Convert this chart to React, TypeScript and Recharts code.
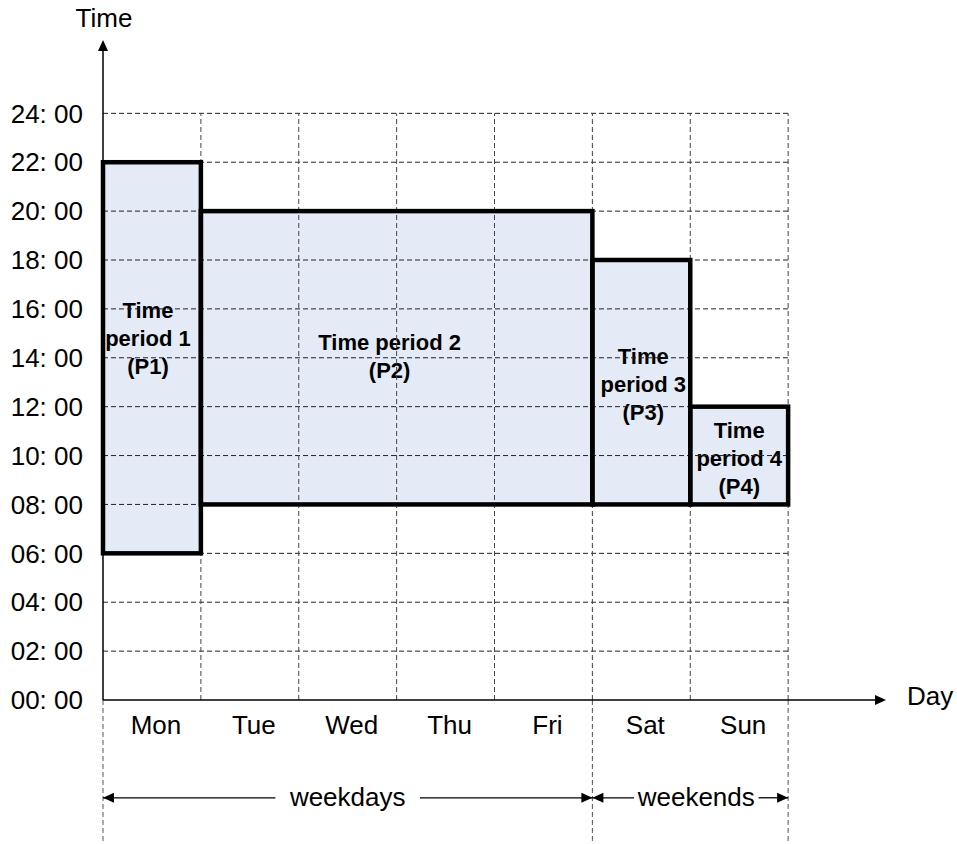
import React from "react";
import {
  ComposedChart,
  XAxis,
  YAxis,
  ReferenceArea,
  ReferenceLine,
} from "recharts";

// --- chart data ---
const days = ["Mon", "Tue", "Wed", "Thu", "Fri", "Sat", "Sun"];
const hourTicks = [0, 2, 4, 6, 8, 10, 12, 14, 16, 18, 20, 22, 24];

// each period covers [startDay, endDay) and [startHour, endHour]
const periodStartDay = [0, 1, 5, 6];
const periodEndDay = [1, 5, 6, 7];
const periodStartHour = [6, 8, 8, 8];
const periodEndHour = [22, 20, 18, 12];
const periodLines = [
  ["Time", "period 1", "(P1)"],
  ["Time period 2", "(P2)"],
  ["Time", "period 3", "(P3)"],
  ["Time", "period 4", "(P4)"],
];

const groupLabels = ["weekdays", "weekends"];
const groupStartDay = [0, 5];
const groupEndDay = [5, 7];

// --- layout / style ---
const WIDTH = 957;
const HEIGHT = 844;
const FONT = '"Liberation Sans", Arial, Helvetica, sans-serif';
const X_MAX = 8; // axis runs past Sunday to the arrow head
const Y_MAX = 27; // axis runs past 24:00 to the arrow head
const BRACKET_Y = -4; // below the x axis, in hours
const BELOW = -6;
const FILL = "#e5ebf6";
const labelNudge = [
  { dx: -4, dy: -20 },
  { dx: -7, dy: -2 },
  { dx: 2, dy: 2 },
  { dx: 0, dy: 2 },
];
const bracketNudge = [
  { dx: 0, gap: 14 },
  { dx: 6, gap: 4 },
];

const pad = (h: number) => (h < 10 ? `0${h}` : `${h}`);

function arrowHead(x1: number, y1: number, x2: number, y2: number, len = 11, half = 5) {
  const d = Math.hypot(x2 - x1, y2 - y1) || 1;
  const ux = (x2 - x1) / d;
  const uy = (y2 - y1) / d;
  const bx = x2 - ux * len;
  const by = y2 - uy * len;
  return `${x2},${y2} ${bx - uy * half},${by + ux * half} ${bx + uy * half},${by - ux * half}`;
}

function XArrow(props: any) {
  const { x1, y1, x2, y2 } = props;
  return (
    <g>
      <line x1={x1} y1={y1} x2={x2 - 6} y2={y2} stroke="#000" strokeWidth={1.5} />
      <polygon points={arrowHead(x1, y1, x2, y2)} fill="#000" />
      <text x={x2 + 21} y={y2 + 5} fontSize={26} fontFamily={FONT} fill="#000">
        Day
      </text>
    </g>
  );
}

function YArrow(props: any) {
  const { x1, y1, x2, y2 } = props;
  return (
    <g>
      <line x1={x1} y1={y1} x2={x2} y2={y2 + 6} stroke="#000" strokeWidth={1.5} />
      <polygon points={arrowHead(x1, y1, x2, y2, 11, 5)} fill="#000" />
      <text x={x2 + 1} y={y2 - 13} fontSize={26} fontFamily={FONT} fill="#000" textAnchor="middle">
        Time
      </text>
    </g>
  );
}

function makeBracket(label: string, idx: number) {
  return (props: any) => {
    const { x1, y1, x2 } = props;
    const { dx, gap } = bracketNudge[idx];
    const mid = (x1 + x2) / 2 + dx;
    const half = (label.length * 0.56 * 26) / 2;
    return (
      <g>
        <line x1={x1} y1={y1} x2={mid - half - gap} y2={y1} stroke="#000" strokeWidth={1.3} />
        <line x1={mid + half + gap} y1={y1} x2={x2} y2={y1} stroke="#000" strokeWidth={1.3} />
        <polygon points={arrowHead(x1 + 20, y1, x1, y1, 11, 5)} fill="#000" />
        <polygon points={arrowHead(x2 - 20, y1, x2, y1, 11, 5)} fill="#000" />
        <text x={mid} y={y1 + 8} fontSize={26} fontFamily={FONT} fill="#000" textAnchor="middle">
          {label}
        </text>
      </g>
    );
  };
}

function makeFill(idx: number) {
  return (props: any) => {
    const { x, y, width, height } = props;
    const lines = periodLines[idx];
    const { dx, dy } = labelNudge[idx];
    const lh = 28;
    const cx = x + width / 2 + dx;
    const firstBase = y + height / 2 + dy - ((lines.length - 1) * lh) / 2 + 8;
    return (
      <g>
        <rect x={x} y={y} width={width} height={height} fill={FILL} />
        <text
          fontSize={22}
          fontWeight="bold"
          fontFamily={FONT}
          fill="#000"
          textAnchor="middle"
        >
          {lines.map((t, i) => (
            <tspan key={i} x={cx} y={firstBase + i * lh}>
              {t}
            </tspan>
          ))}
        </text>
      </g>
    );
  };
}

function Outline(props: any) {
  const { x, y, width, height } = props;
  return (
    <rect
      x={x}
      y={y}
      width={width}
      height={height}
      fill="none"
      stroke="#000"
      strokeWidth={4.5}
      strokeLinejoin="miter"
    />
  );
}

export default function App() {
  const dayTicks = days.map((_, i) => i + 0.5);
  const data = dayTicks.map((x, i) => ({ x, day: days[i] }));
  const boundaries = Array.from(new Set([...groupStartDay, ...groupEndDay]));

  return (
    <div style={{ position: "absolute", left: 0, top: 0, width: WIDTH, height: HEIGHT, background: "#fff" }}>
      <ComposedChart
        width={WIDTH}
        height={HEIGHT}
        data={data}
        margin={{ top: 40, right: 71, bottom: 0, left: 0 }}
      >
        <XAxis
          type="number"
          dataKey="x"
          domain={[0, X_MAX]}
          ticks={dayTicks}
          interval={0}
          allowDataOverflow
          height={144}
          axisLine={false}
          tickLine={false}
          tickSize={0}
          tickMargin={16}
          tick={{ fill: "#000", fontSize: 26, fontFamily: FONT, dx: 4 }}
          tickFormatter={(v: number) => days[Math.floor(v)]}
        />
        <YAxis
          type="number"
          domain={[0, Y_MAX]}
          ticks={hourTicks}
          interval={0}
          allowDataOverflow
          width={103}
          axisLine={false}
          tickLine={false}
          tickSize={0}
          tickMargin={20}
          tick={{ fill: "#000", fontSize: 26, fontFamily: FONT }}
          tickFormatter={(h: number) => `${pad(h)}: 00`}
        />

        {/* period fills with their labels */}
        {periodStartDay.map((s, i) => (
          <ReferenceArea
            key={`fill-${i}`}
            x1={s}
            x2={periodEndDay[i]}
            y1={periodStartHour[i]}
            y2={periodEndHour[i]}
            ifOverflow="visible"
            zIndex={100}
            shape={makeFill(i)}
          />
        ))}

        {/* dashed grid, limited to the week and 0-24h */}
        {hourTicks
          .filter((h) => h > 0)
          .map((h) => (
            <ReferenceLine
              key={`h-${h}`}
              segment={[
                { x: 0, y: h },
                { x: days.length, y: h },
              ]}
              stroke="#222"
              strokeWidth={1}
              strokeDasharray="5 3"
              ifOverflow="visible"
              zIndex={150}
            />
          ))}
        {days.map((_, i) => (
          <ReferenceLine
            key={`v-${i}`}
            segment={[
              { x: i + 1, y: 0 },
              { x: i + 1, y: 24 },
            ]}
            stroke="#444"
            strokeWidth={1}
            strokeDasharray="5 3"
            ifOverflow="visible"
            zIndex={150}
          />
        ))}
        {boundaries.map((b) => (
          <ReferenceLine
            key={`ext-${b}`}
            segment={[
              { x: b, y: 0 },
              { x: b, y: BELOW },
            ]}
            stroke="#555"
            strokeWidth={1}
            strokeDasharray="5 3"
            ifOverflow="visible"
            zIndex={150}
          />
        ))}

        {/* period outlines */}
        {periodStartDay.map((s, i) => (
          <ReferenceArea
            key={`out-${i}`}
            x1={s}
            x2={periodEndDay[i]}
            y1={periodStartHour[i]}
            y2={periodEndHour[i]}
            ifOverflow="visible"
            zIndex={300}
            shape={Outline}
          />
        ))}

        {/* axes with arrow heads */}
        <ReferenceLine
          segment={[
            { x: 0, y: 0 },
            { x: X_MAX, y: 0 },
          ]}
          ifOverflow="visible"
          zIndex={450}
          shape={XArrow}
        />
        <ReferenceLine
          segment={[
            { x: 0, y: 0 },
            { x: 0, y: Y_MAX },
          ]}
          ifOverflow="visible"
          zIndex={450}
          shape={YArrow}
        />

        {/* weekday / weekend brackets */}
        {groupLabels.map((g, i) => (
          <ReferenceLine
            key={`grp-${g}`}
            segment={[
              { x: groupStartDay[i], y: BRACKET_Y },
              { x: groupEndDay[i], y: BRACKET_Y },
            ]}
            ifOverflow="visible"
            zIndex={450}
            shape={makeBracket(g, i)}
          />
        ))}
      </ComposedChart>
    </div>
  );
}
